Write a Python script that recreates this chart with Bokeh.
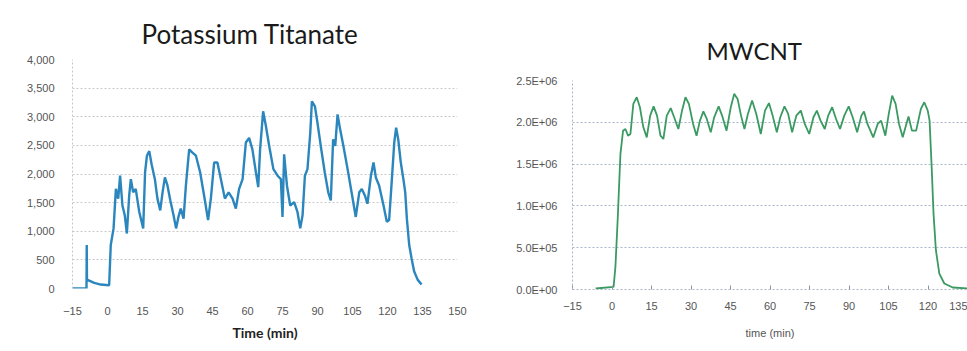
from bokeh.plotting import figure
from bokeh.layouts import row, column
from bokeh.models import FixedTicker, NumeralTickFormatter, Range1d
from bokeh.embed import file_html
from bokeh.resources import INLINE

# ---------------- data: Potassium Titanate ----------------
kt_time = [-15, -9.0, -8.9, -8.8, -5.7, -2.9, 0.7, 1.4, 2.6, 3.6, 4.6, 5.4, 6.4, 7.4, 8.3,
           9.3, 10.0, 11.0, 12.1, 13.6, 15.3, 16.1, 16.9, 17.9, 18.9, 20.3, 21.4, 22.6,
           23.6, 24.6, 25.7, 26.9, 28.3, 29.4, 30.4, 31.4, 32.6, 33.6, 35.0, 36.4, 37.9,
           39.7, 41.4, 43.1, 44.3, 45.7, 47.1, 48.6, 50.3, 51.9, 53.6, 55.0, 56.4, 57.9,
           59.3, 60.7, 62.1, 63.6, 64.6, 65.4, 66.7, 67.9, 69.3, 71.1, 72.9, 74.3, 75.0,
           75.7, 76.9, 78.3, 80.0, 81.4, 82.6, 83.6, 84.6, 85.7, 86.9, 87.6, 88.9, 90.0,
           91.4, 93.1, 94.6, 95.7, 96.7, 97.6, 98.6, 99.7, 101.1, 102.9, 104.6, 106.4,
           107.9, 109.0, 110.3, 111.4, 112.9, 114.0, 115.0, 116.4, 118.3, 119.7, 120.7,
           121.7, 122.9, 123.7, 124.6, 125.7, 126.9, 127.6, 128.3, 129.3, 130.3, 131.4,
           132.9, 134.6]
kt_counts = [0, 0, 760, 155, 98, 69, 58, 760, 1050, 1740, 1570, 1970, 1450, 1280, 960,
             1625, 1910, 1680, 1740, 1340, 1050, 2030, 2320, 2400, 2170, 1910, 1570, 1365,
             1680, 1940, 1800, 1540, 1280, 1050, 1250, 1395, 1220, 1800, 2430, 2375, 2320,
             2030, 1625, 1195, 1570, 2200, 2200, 1910, 1570, 1680, 1570, 1395, 1740, 1910,
             2550, 2630, 2430, 2030, 1770, 2430, 3095, 2835, 2490, 2085, 1970, 1910, 1250,
             2345, 1800, 1450, 1510, 1340, 1050, 1280, 1970, 2085, 2720, 3270, 3180, 2890,
             2490, 2030, 1680, 1540, 2605, 2490, 3040, 2780, 2490, 2085, 1680, 1250,
             1680, 1740, 1625, 1480, 1970, 2200, 1940, 1800, 1450, 1165, 1195,
             1800, 2550, 2810, 2605, 2200, 1885, 1680, 1220, 760, 530, 300,
             155, 70]
kt_xticks = [-15, 0, 15, 30, 45, 60, 75, 90, 105, 120, 135, 150]
kt_yticks = [0, 500, 1000, 1500, 2000, 2500, 3000, 3500, 4000]

# ---------------- data: MWCNT ----------------
cnt_time = [-6.2, 0.6, 1.3, 2.2, 3.2, 4.2, 5.1, 6.1, 7.0, 8.1, 9.4, 10.6, 11.9, 13.2, 14.5,
            15.8, 17.1, 18.4, 19.5, 20.8, 22.3, 23.6, 25.2, 26.6, 27.9, 29.2, 30.8, 32.1,
            33.4, 34.7, 36.0, 37.5, 38.8, 40.5, 41.8, 43.5, 45.1, 46.4, 47.7, 49.0, 50.3,
            51.6, 53.2, 54.8, 56.5, 58.1, 59.6, 61.0, 62.6, 63.9, 65.5, 66.9, 68.4, 70.0,
            71.7, 73.2, 74.9, 76.5, 77.8, 79.2, 80.8, 82.1, 83.6, 85.1, 86.6, 88.2, 89.9,
            91.4, 93.1, 94.7, 95.7, 97.0, 99.2, 100.9, 102.2, 103.8, 105.1, 106.4, 107.7,
            109.0, 110.4, 111.6, 112.6, 113.9, 115.5, 117.3, 118.6, 119.9, 120.6, 121.4,
            122.1, 123.0, 124.3, 126.2, 129.4, 135.0]
cnt_counts = [12e3, 32e3, 270e3, 868e3, 1.62e6, 1.90e6, 1.92e6, 1.84e6, 1.86e6, 2.22e6,
              2.30e6, 2.18e6, 1.94e6, 1.82e6, 2.08e6, 2.19e6, 2.08e6, 1.84e6, 1.80e6,
              2.08e6, 2.17e6, 2.06e6, 1.92e6, 2.14e6, 2.30e6, 2.22e6, 1.98e6, 1.84e6,
              2.02e6, 2.13e6, 2.04e6, 1.88e6, 2.06e6, 2.19e6, 2.08e6, 1.90e6, 2.18e6,
              2.34e6, 2.28e6, 2.08e6, 1.92e6, 2.10e6, 2.26e6, 2.10e6, 1.86e6, 2.14e6,
              2.23e6, 2.08e6, 1.88e6, 2.06e6, 2.19e6, 2.10e6, 1.88e6, 2.08e6, 2.14e6,
              1.98e6, 1.86e6, 2.06e6, 2.14e6, 2.02e6, 1.92e6, 2.08e6, 2.18e6, 2.04e6,
              1.92e6, 2.08e6, 2.19e6, 2.06e6, 1.88e6, 2.08e6, 2.13e6, 1.98e6, 1.82e6,
              1.98e6, 2.02e6, 1.84e6, 2.10e6, 2.32e6, 2.22e6, 1.98e6, 1.82e6, 1.96e6,
              2.07e6, 1.90e6, 1.90e6, 2.16e6, 2.24e6, 2.14e6, 2.02e6, 1.46e6, 908e3,
              470e3, 191e3, 72e3, 24e3, 12e3]
cnt_xticks = [-15, 0, 15, 30, 45, 60, 75, 90, 105, 120, 135]
cnt_yticks = [0, 500000, 1000000, 1500000, 2000000, 2500000]
cnt_ylabels = ["0.0E+00", "5.0E+05", "1.0E+06", "1.5E+06", "2.0E+06", "2.5E+06"]

TICK_FONT = "Liberation Sans"
TITLE_FONT = "Lato"

# ---------------- left chart ----------------
p1 = figure(width=480, height=343, output_backend="svg", toolbar_location=None,
            x_range=Range1d(-15, 150), y_range=Range1d(0, 4000),
            min_border_left=72, min_border_right=23, min_border_top=59, min_border_bottom=52,
            title="Potassium Titanate")
p1.title.align = "left"
p1.title.text_font = TITLE_FONT
p1.title.text_font_size = "26px"
p1.title.text_font_style = "normal"
p1.title.text_color = "#1a1a1a"
p1.title.standoff = 20
p1.title.offset = 69
p1.outline_line_color = None
p1.line(kt_time, kt_counts, line_color="#2a86bd", line_width=2.4)

p1.xaxis.ticker = FixedTicker(ticks=kt_xticks)
p1.yaxis.ticker = FixedTicker(ticks=kt_yticks)
p1.yaxis.formatter = NumeralTickFormatter(format="0,0")
for ax in (p1.xaxis, p1.yaxis):
    ax.major_label_text_font = TICK_FONT
    ax.major_label_text_font_size = "11px"
    ax.major_label_text_color = "#555555"
    ax.major_tick_line_color = None
    ax.minor_tick_line_color = None
p1.xaxis.axis_line_color = None
p1.yaxis.axis_line_color = "#c0c8cc"
p1.yaxis.axis_line_dash = "2 2"
p1.yaxis.major_label_standoff = 12
p1.xaxis.major_label_standoff = 12
p1.xaxis.axis_label = "Time (min)"
p1.xaxis.axis_label_text_font = TITLE_FONT
p1.xaxis.axis_label_text_font_size = "14px"
p1.xaxis.axis_label_text_font_style = "bold"
p1.xaxis.axis_label_text_color = "#222222"
p1.xaxis.axis_label_standoff = 6
p1.xgrid.grid_line_color = None
p1.ygrid.grid_line_color = "#c8c8c8"
p1.ygrid.grid_line_dash = "2 2"

# ---------------- right chart ----------------
p2 = figure(width=487, height=343, output_backend="svg", toolbar_location=None,
            x_range=Range1d(-15, 135), y_range=Range1d(0, 2500000),
            min_border_left=92, min_border_right=0, min_border_top=80, min_border_bottom=54,
            title="MWCNT")
p2.title.align = "left"
p2.title.text_font = TITLE_FONT
p2.title.text_font_size = "24px"
p2.title.text_font_style = "normal"
p2.title.text_color = "#1a1a1a"
p2.title.standoff = 32
p2.title.offset = 134
p2.outline_line_color = None
p2.line(cnt_time, cnt_counts, line_color="#3a9a62", line_width=1.8)

p2.xaxis.ticker = FixedTicker(ticks=cnt_xticks)
p2.yaxis.ticker = FixedTicker(ticks=cnt_yticks)
p2.yaxis.major_label_overrides = {t: s for t, s in zip(cnt_yticks, cnt_ylabels)}
for ax in (p2.xaxis, p2.yaxis):
    ax.major_label_text_font = TICK_FONT
    ax.major_label_text_font_size = "11px"
    ax.major_label_text_color = "#555555"
    ax.minor_tick_line_color = None
p2.yaxis.major_tick_line_color = None
p2.yaxis.axis_line_color = "#a8b4c8"
p2.yaxis.axis_line_dash = "2 2"
p2.yaxis.major_label_standoff = 9
p2.xaxis.axis_line_color = "#a8b4c8"
p2.xaxis.axis_line_dash = "2 2"
p2.xaxis.major_tick_line_color = "#8896aa"
p2.xaxis.major_tick_in = 4
p2.xaxis.major_tick_out = 0
p2.xaxis.major_label_standoff = 12
p2.xaxis.axis_label = "time (min)"
p2.xaxis.axis_label_text_font = TICK_FONT
p2.xaxis.axis_label_text_font_size = "11px"
p2.xaxis.axis_label_text_font_style = "normal"
p2.xaxis.axis_label_text_color = "#555555"
p2.xaxis.axis_label_standoff = 14
p2.xgrid.grid_line_color = None
p2.ygrid.grid_line_color = "#a8b4c8"
p2.ygrid.grid_line_dash = "2 2"

layout = row(column(p1), column(p2))
open("out.html", "w").write(file_html(layout, INLINE))
